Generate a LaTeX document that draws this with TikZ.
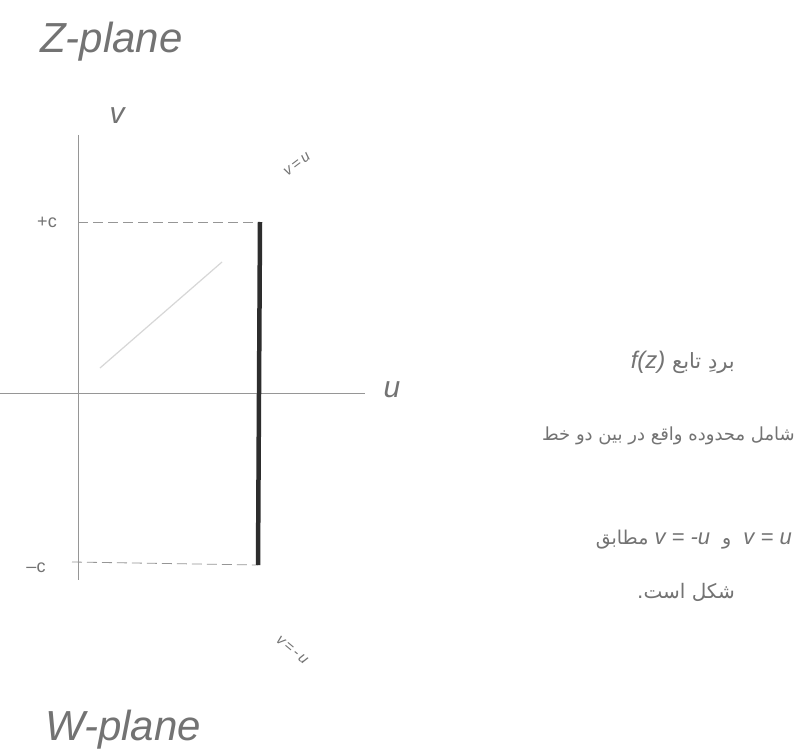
\documentclass[tikz,border=0pt]{standalone}
\usepackage{fontspec}
\setmainfont{Liberation Sans}
\newfontfamily\arabicfont[Script=Arabic]{DejaVu Sans}
\TeXXeTstate=1
\definecolor{ink}{RGB}{115,115,115}
\definecolor{axisgray}{RGB}{150,150,150}
\definecolor{thickink}{RGB}{45,45,45}
\definecolor{faint}{RGB}{215,215,215}
\newcommand{\fsz}[1]{\fontsize{#1}{#1}\selectfont}
\newcommand{\lat}[1]{{\normalfont\itshape #1}}
\begin{document}
\begin{tikzpicture}[x=1pt,y=-1pt,
  lbl/.style={text=ink,font=\itshape,inner sep=0pt},
  axisline/.style={draw=axisgray,line width=0.8pt},
  guide/.style={draw=axisgray,line width=0.8pt,dash pattern=on 10pt off 5pt},
  imageline/.style={draw=thickink,line width=4.5pt},
  diag/.style={draw=faint,line width=1.2pt},
  note/.style={text=ink,inner sep=0pt,font=\arabicfont\fsz{18}}]
\useasboundingbox[fill=white] (0,0) rectangle (803,754);
% coordinates
\coordinate (vtop) at (78,135);
\coordinate (vbot) at (78,580);
\coordinate (uleft) at (0,393);
\coordinate (uright) at (365,393);
\coordinate (cp) at (78,222);
\coordinate (cm) at (72,562);
\coordinate (ptop) at (260,222);
\coordinate (pbot) at (258,565);
\coordinate (d1) at (100,368);
\coordinate (d2) at (222,262);
% axes
\draw[axisline] (vtop) -- (vbot);
\draw[axisline] (uleft) -- (uright);
% guides
\draw[guide] (cp) -- (ptop);
\draw[guide] (cm) -- (pbot);
\draw[diag] (d1) -- (d2);
% image segment
\draw[imageline] (ptop) -- (pbot);
% labels
\node[lbl,anchor=base west,font=\itshape\fsz{42}] (zp) at (40,53) {Z-plane};
\node[lbl,anchor=base west,font=\itshape\fsz{42}] (wp) at (45,740) {W-plane};
\node[lbl,font=\itshape\fsz{30}] (vl) at (117,116) {v};
\node[lbl,font=\itshape\fsz{30}] (ul) at (392,390) {u};
\node[lbl,font=\fsz{18}] (pc) at (47,222) {+c};
\node[lbl,font=\fsz{18}] (mc) at (36,568) {\textendash c};
\node[lbl,font=\itshape\fsz{15},rotate=37] (vu) at (297,164) {v\,=\,u};
\node[lbl,font=\itshape\fsz{15},rotate=-40] (vmu) at (292,650) {v\,=\,-\,u};
% Persian notes
\node[note,anchor=east,font=\arabicfont\fsz{21}] (n1) at (735,362) {\beginR بردِ تابع \beginL\lat{\fsz{24}f(z)}\endL\endR};
\node[note,anchor=east] (n2) at (795,436) {\beginR شامل محدوده واقع در بین دو خط\endR};
\node[note,anchor=east,font=\arabicfont\fsz{19}] (n3) at (792,540) {\beginR \beginL\lat{\fsz{22}v = u}\endL{}\ \ و \ \beginL\lat{\fsz{22}v = -u}\endL{} مطابق\endR};
\node[note,anchor=east,font=\arabicfont\fsz{20}] (n4) at (735,592) {\beginR شکل است.\endR};
\end{tikzpicture}
\end{document}
